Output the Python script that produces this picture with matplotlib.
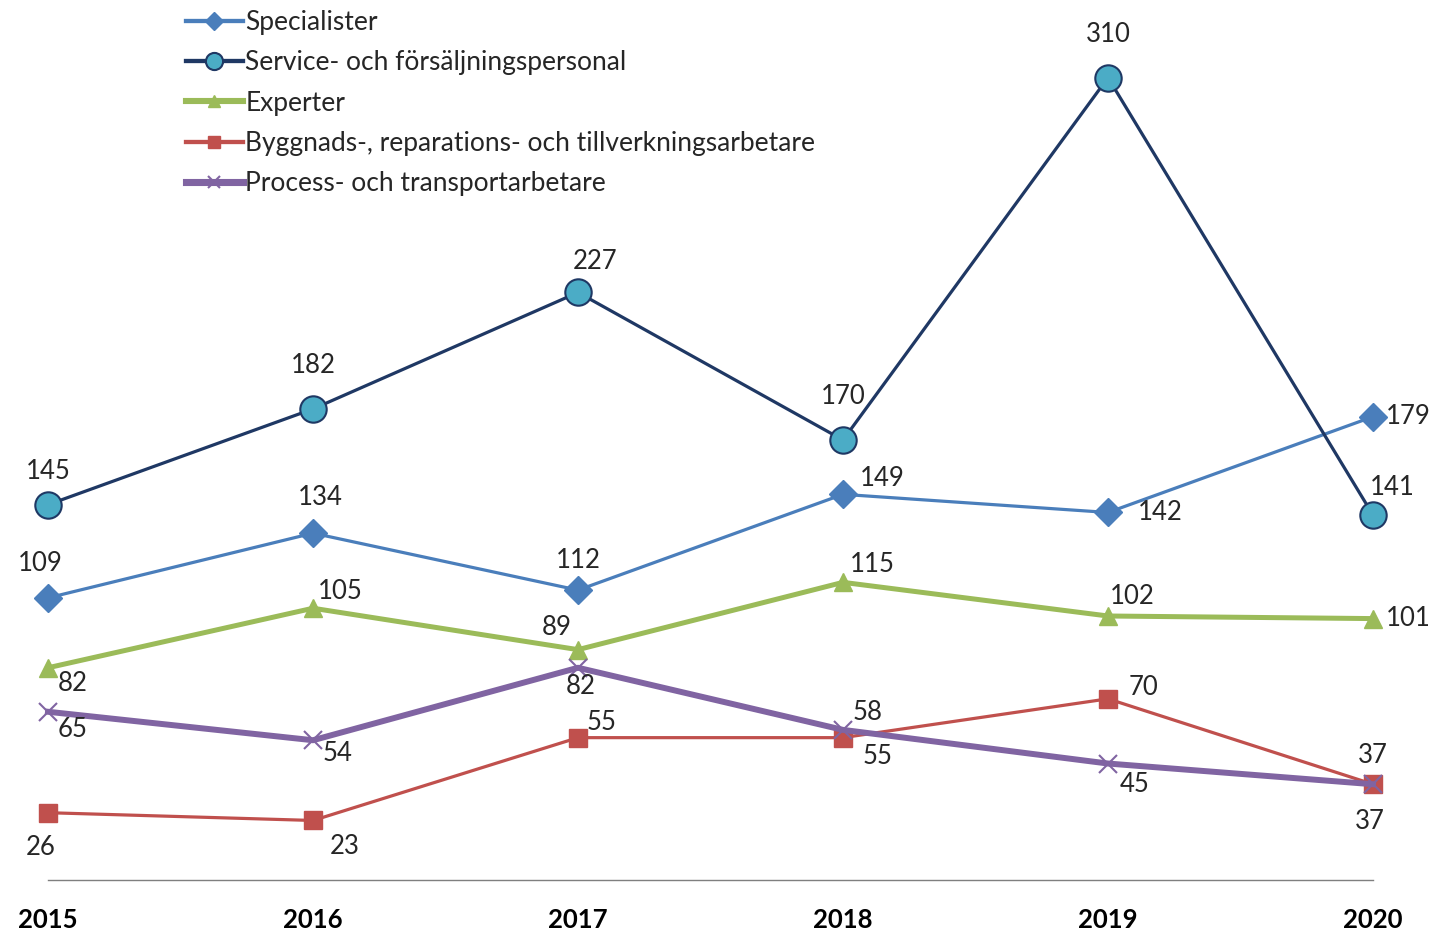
# Yrkesgrupper 2015-2020, linjediagram
import matplotlib.pyplot as plt

plt.rcParams['font.family'] = ['Lato', 'DejaVu Sans']

years = [2015, 2016, 2017, 2018, 2019, 2020]

specialister = [109, 134, 112, 149, 142, 179]
service = [145, 182, 227, 170, 310, 141]
experter = [82, 105, 89, 115, 102, 101]
byggnads = [26, 23, 55, 55, 70, 37]
process = [65, 54, 82, 58, 45, 37]

names = ["Specialister",
         "Service- och försäljningspersonal",
         "Experter",
         "Byggnads-, reparations- och tillverkningsarbetare",
         "Process- och transportarbetare"]

# label offsets in pixels (dx, dy), dy positive = up
off_spec = [(-8, 34), (7, 36), (0, 30), (39, 16), (52, 0), (35, 0)]
off_serv = [(0, 33), (0, 43), (17, 31), (0, 43), (0, 43), (19, 28)]
off_exp = [(25, -16), (27, 17), (-21, 22), (29, 18), (24, 20), (35, 0)]
off_bygg = [(-7, -35), (32, -26), (24, 15), (35, -19), (35, 11), (0, 29)]
off_proc = [(25, -18), (25, -13), (3, -19), (25, 17), (27, -21), (-3, -37)]

fig = plt.figure(figsize=(14.34, 9.32), dpi=100)
ax = fig.add_axes([48 / 1434, 52 / 932, 1325 / 1434, 880 / 932])

styles = [
    dict(color='#4a7ebb', lw=2.3, marker='D', ms=14, mfc='#4a7ebb', mec='#4a7ebb'),
    dict(color='#1f3864', lw=2.3, marker='o', ms=19, mfc='#4bacc6', mec='#1f3864', mew=1.5),
    dict(color='#9bbb59', lw=3.6, marker='^', ms=13, mfc='#9bbb59', mec='#9bbb59'),
    dict(color='#c0504d', lw=2.3, marker='s', ms=13, mfc='#c0504d', mec='#c0504d'),
    dict(color='#8064a2', lw=4.3, marker='x', ms=13, mew=1.5, mec='#8064a2'),
]
series = [specialister, service, experter, byggnads, process]
offsets = [off_spec, off_serv, off_exp, off_bygg, off_proc]

for vals, st, name, offs in zip(series, styles, names, offsets):
    ax.plot(years, vals, label=name, clip_on=False, **st)
    for x, y, (dx, dy) in zip(years, vals, offs):
        ax.annotate(str(y), (x, y), xytext=(dx * 0.72, dy * 0.72),
                    textcoords='offset points', ha='center', va='center',
                    fontsize=18.5, color='#262626')

ax.set_xlim(2015, 2020)
ax.set_ylim(0, 340)
for s in ['top', 'right', 'left']:
    ax.spines[s].set_visible(False)
ax.spines['bottom'].set_color('#7f7f7f')
ax.spines['bottom'].set_linewidth(1)
ax.set_yticks([])
ax.set_xticks(years)
ax.set_xticklabels([str(y) for y in years], fontsize=18.5, fontweight='bold')
ax.tick_params(axis='x', length=0, pad=20)

leg = ax.legend(loc='upper left', bbox_to_anchor=(186 / 1434, 1 - 10 / 932),
                bbox_transform=fig.transFigure, frameon=False, fontsize=19,
                handlelength=2.15, handletextpad=0.1, labelspacing=0.58,
                markerscale=0.65, borderaxespad=0, borderpad=0)
for t in leg.get_texts():
    t.set_color('#262626')
for h in leg.legend_handles:
    h.set_linewidth(h.get_linewidth() + 0.8)

plt.savefig('out.png', dpi=100)
